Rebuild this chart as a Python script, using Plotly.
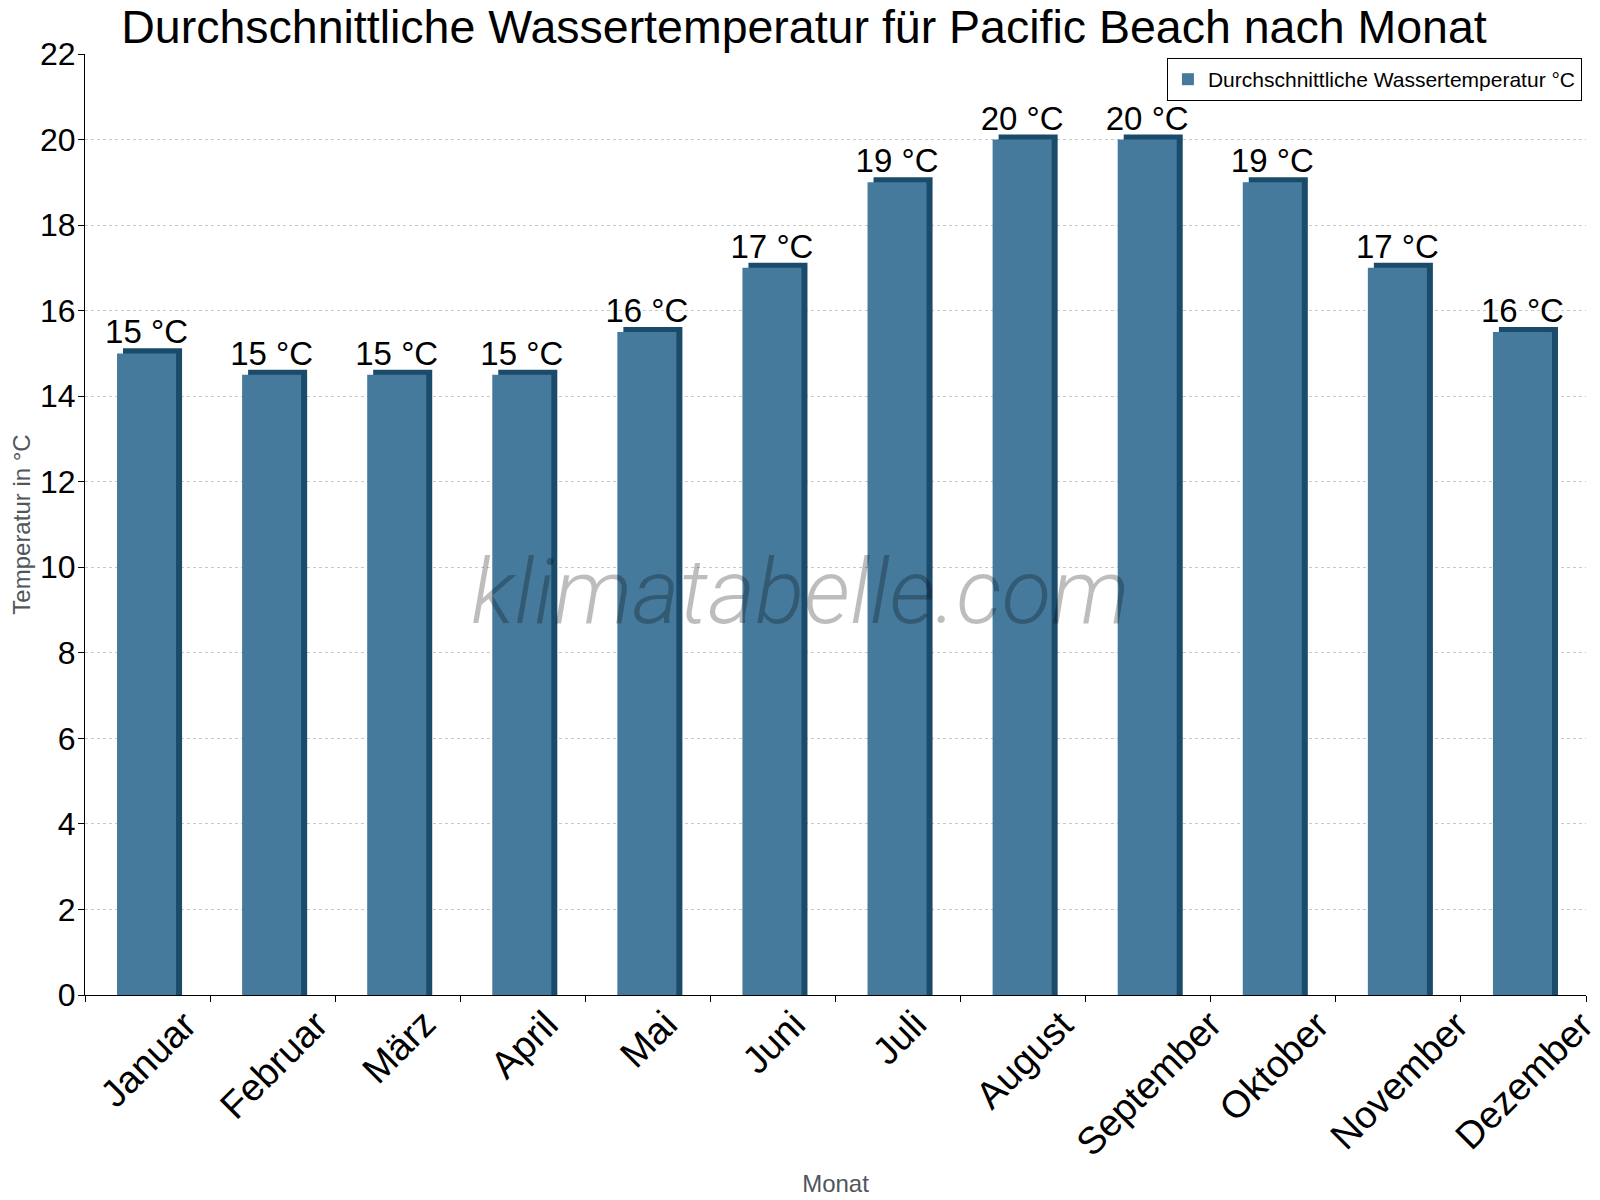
import plotly.graph_objects as go

# Monatswerte (Pacific Beach)
months = ['Januar', 'Februar', 'März', 'April', 'Mai', 'Juni', 'Juli',
          'August', 'September', 'Oktober', 'November', 'Dezember']
water_temp = [15, 14.5, 14.5, 14.5, 15.5, 17, 19, 20, 20, 19, 17, 15.5]
series_name = 'Durchschnittliche Wassertemperatur °C'

labels = [f'{int(t + 0.5)} °C' for t in water_temp]

front_color = '#467a9c'
side_color = '#1b4b6b'
font = 'Liberation Sans, Arial, sans-serif'
gray = '#50565c'

fig = go.Figure()

# dark "3D" side / top of each bar, drawn behind the front face
fig.add_trace(go.Bar(
    x=months, y=[t + 0.12 for t in water_temp],
    offset=-0.196, width=0.472,
    marker=dict(color=side_color, line=dict(width=0)),
    showlegend=False, hoverinfo='skip'))

fig.add_trace(go.Bar(
    x=months, y=water_temp, name=series_name,
    offset=-0.244, width=0.472,
    marker=dict(color=front_color, line=dict(width=0)),
    text=labels, textposition='outside', constraintext='none',
    textfont=dict(size=33, color='black', family=font),
    cliponaxis=False))

# page body has an 8px margin, so the figure is 8px smaller than the window
fig.update_layout(
    width=1592, height=1192, autosize=False,
    barmode='overlay',
    plot_bgcolor='white', paper_bgcolor='white',
    font=dict(family=font, color='black'),
    margin=dict(l=77, r=14, t=46, b=205),
    title=dict(text='Durchschnittliche Wassertemperatur für Pacific Beach nach Monat',
               x=0.5, xanchor='center', y=0.984, yanchor='middle',
               font=dict(size=46.5, color='black', family=font)),
    legend=dict(x=0.9973, y=0.9957, xanchor='right', yanchor='top',
                bgcolor='white', bordercolor='black', borderwidth=1,
                font=dict(size=21, color='black', family=font)),
    showlegend=True,
)

fig.update_xaxes(
    type='category', range=[-0.5, len(months) - 0.5],
    tickson='boundaries', ticks='outside', ticklen=6,
    tickcolor='black', showline=True, linecolor='black', linewidth=1,
    showticklabels=False, showgrid=False, automargin=False,
    title=dict(text='Monat', font=dict(size=24, color=gray), standoff=180))

fig.update_yaxes(
    range=[0, 22], dtick=2, ticks='outside', ticklen=6, tickcolor='black',
    showline=True, linecolor='black', linewidth=1, zeroline=False,
    showgrid=True, gridcolor='#c8c8c8', griddash='dot', gridwidth=1,
    tickfont=dict(size=32, color='black'), ticklabelstandoff=-4, automargin=False,
    title=dict(text='Temperatur in °C', font=dict(size=24, color=gray), standoff=8))

# rotated month labels, hung below the axis by the top of their rotated box
for m in months:
    fig.add_annotation(
        text=m, x=m, xref='x', y=0, yref='paper', xanchor='center', yanchor='top',
        textangle=-45, xshift=1, yshift=-5, showarrow=False,
        font=dict(size=38, color='black', family=font))

fig.add_annotation(
    text='klimatabelle.com', xref='paper', yref='paper', x=0.477, y=0.428,
    xanchor='center', yanchor='middle', showarrow=False,
    font=dict(family='Roboto', size=91, weight=300, style='italic',
              color='rgba(0,0,0,0.26)'))

fig.write_html('out.html')
